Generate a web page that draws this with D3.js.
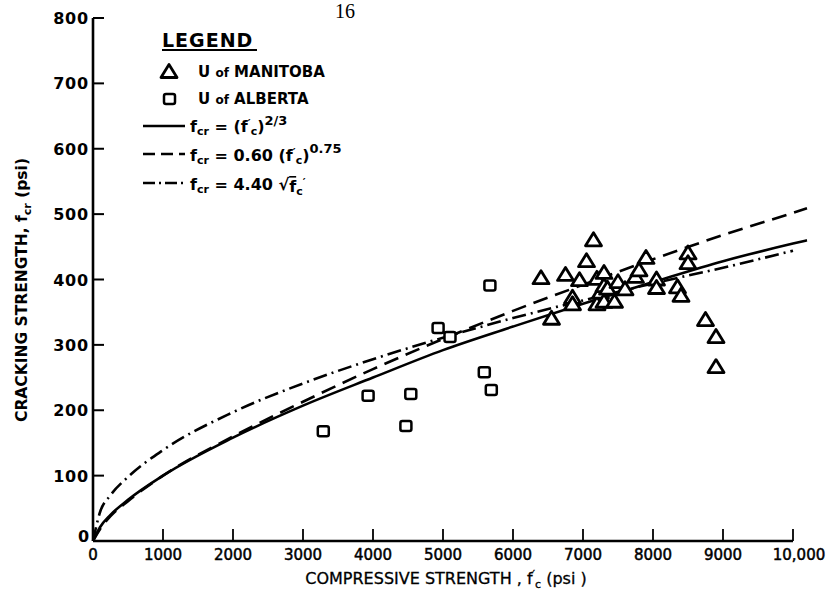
<!DOCTYPE html>
<html>
<head>
<meta charset="utf-8">
<script src="https://cdn.jsdelivr.net/npm/d3@7"></script>
<style>
  body { margin: 0; background: #fff; }
  text { fill: #000; }
</style>
</head>
<body>
<div id="chart"></div>
<script>
// values
const xTicks = [0, 1000, 2000, 3000, 4000, 5000, 6000, 7000, 8000, 9000, 10000];
const xTickLabels = ['0', '1000', '2000', '3000', '4000', '5000', '6000', '7000', '8000', '9000', '10,000'];
const yTicks = [0, 100, 200, 300, 400, 500, 600, 700, 800];

// U of Manitoba (triangles)
const manitobaFc  = [6400, 6550, 6750, 6850, 6850, 6950, 7050, 7150, 7200, 7200, 7250, 7300, 7300, 7300, 7350, 7450, 7500, 7600, 7750, 7800, 7900, 8050, 8050, 8350, 8400, 8500, 8500, 8750, 8900, 8900];
const manitobaFcr = [402, 340, 407, 372, 362, 399, 428, 460, 401, 362, 380, 410, 390, 366, 386, 366, 396, 385, 404, 414, 433, 400, 387, 388, 375, 440, 425, 338, 312, 266];

// U of Alberta (squares)
const albertaFc  = [3290, 3930, 4540, 4470, 4930, 5100, 5590, 5690, 5670];
const albertaFcr = [168, 222, 225, 176, 326, 312, 258, 231, 391];

// the three curves, read at these fc values
const curveFc     = [0, 100, 250, 500, 1000, 2000, 3000, 4000, 5000, 6000, 7000, 8000, 9000, 10000, 10200];
const curveSolid  = [0, 21, 40, 63, 100, 158, 207, 250, 292, 328, 363, 396, 428, 455, 460];
const curveDashed = [0, 18, 38, 61, 100, 160, 213, 263, 309, 352, 392, 431, 468, 502, 509];
const curveDashDot = [0, 44, 70, 98, 139, 197, 241, 278, 311, 341, 368, 394, 418, 444, null];

const width = 826;
const height = 603;

const xScale = d3.scaleLinear().domain([0, 10000]).range([93, 793]);
const yScale = d3.scaleLinear().domain([0, 800]).range([541, 18]);

const svg = d3.select('#chart')
  .append('svg')
  .attr('width', width)
  .attr('height', height)
  .style('background', '#fff');

// page number
svg.append('text')
  .attr('x', 345).attr('y', 18)
  .attr('text-anchor', 'middle')
  .style('font-family', 'Liberation Serif')
  .style('font-size', '20px')
  .text('16');

// axes
const axisColor = '#000';
svg.append('line')
  .attr('x1', xScale(0)).attr('x2', xScale(0))
  .attr('y1', yScale(800)).attr('y2', yScale(0))
  .attr('stroke', axisColor).attr('stroke-width', 2.6);
svg.append('line')
  .attr('x1', xScale(0)).attr('x2', xScale(10000))
  .attr('y1', yScale(0)).attr('y2', yScale(0))
  .attr('stroke', axisColor).attr('stroke-width', 2.6);

// y ticks (inside, pointing right)
const yAxisG = svg.append('g').attr('class', 'y-axis');
yAxisG.selectAll('line')
  .data(yTicks.filter((d) => d > 0))
  .join('line')
  .attr('x1', xScale(0)).attr('x2', xScale(0) + 11)
  .attr('y1', (d) => yScale(d)).attr('y2', (d) => yScale(d))
  .attr('stroke', axisColor).attr('stroke-width', 2);
yAxisG.selectAll('text')
  .data(yTicks)
  .join('text')
  .attr('x', (d) => d === 0 ? 90 : 89)
  .attr('y', (d) => yScale(d) + (d === 0 ? 1 : 6))
  .attr('text-anchor', 'end')
  .style('font-family', 'DejaVu Sans')
  .style('font-weight', 'bold')
  .style('font-size', '16px')
  .style('letter-spacing', '0.8px')
  .text((d) => d);

// x ticks (inside, pointing up)
const xAxisG = svg.append('g').attr('class', 'x-axis');
xAxisG.selectAll('line')
  .data(xTicks.filter((d) => d > 0))
  .join('line')
  .attr('x1', (d) => xScale(d)).attr('x2', (d) => xScale(d))
  .attr('y1', yScale(0)).attr('y2', yScale(0) - 12)
  .attr('stroke', axisColor).attr('stroke-width', 1.8);
xAxisG.selectAll('text')
  .data(xTicks)
  .join('text')
  .attr('x', (d) => xScale(d) + (d === 10000 ? 6 : 0))
  .attr('y', yScale(0) + 19)
  .attr('text-anchor', 'middle')
  .style('font-family', 'DejaVu Sans')
  .style('font-size', '15px')
  .style('stroke', '#000')
  .style('stroke-width', '0.5px')
  .text((d, i) => xTickLabels[i]);

// axis titles
const xTitle = svg.append('text')
  .attr('x', 446).attr('y', 584)
  .attr('text-anchor', 'middle')
  .style('font-family', 'DejaVu Sans')
  .style('font-size', '16px')
  .style('stroke', '#000')
  .style('stroke-width', '0.3px');
xTitle.append('tspan').text('COMPRESSIVE STRENGTH , f');
xTitle.append('tspan').attr('dy', -6).style('font-size', '11px').text('′');
xTitle.append('tspan').attr('dy', 10).style('font-size', '11px').text('c');
xTitle.append('tspan').attr('dy', -4).text('  (psi )');

const yTitle = svg.append('text')
  .attr('transform', 'translate(27, 290) rotate(-90)')
  .attr('text-anchor', 'middle')
  .style('font-family', 'DejaVu Sans')
  .style('font-weight', 'bold')
  .style('font-size', '15.5px');
yTitle.append('tspan').text('CRACKING STRENGTH, f');
yTitle.append('tspan').attr('dy', 4).style('font-size', '11px').text('cr');
yTitle.append('tspan').attr('dy', -4).text(' (psi)');

// curves
const line = (ys) => d3.line()
  .defined((d, i) => ys[i] !== null)
  .x((d) => xScale(d))
  .y((d, i) => yScale(ys[i]))
  .curve(d3.curveMonotoneX)(curveFc);

const curves = svg.append('g').attr('class', 'curves').attr('fill', 'none').attr('stroke', '#000');
curves.append('path').attr('d', line(curveSolid)).attr('stroke-width', 2.6);
curves.append('path').attr('d', line(curveDashed)).attr('stroke-width', 2.6)
  .attr('stroke-dasharray', '15 8');
curves.append('path').attr('d', line(curveDashDot)).attr('stroke-width', 2.6)
  .attr('stroke-dasharray', '14 5 2 5');

// markers
const triPath = 'M0,-7.5 L8,5.5 L-8,5.5 Z';
svg.append('g').attr('class', 'manitoba')
  .selectAll('path')
  .data(manitobaFc)
  .join('path')
  .attr('transform', (d, i) => `translate(${xScale(d)},${yScale(manitobaFcr[i])})`)
  .attr('d', triPath)
  .attr('fill', '#fff')
  .attr('stroke', '#000')
  .attr('stroke-width', 2.8)
  .attr('stroke-linejoin', 'round');

svg.append('g').attr('class', 'alberta')
  .selectAll('rect')
  .data(albertaFc)
  .join('rect')
  .attr('x', (d) => xScale(d) - 5.5)
  .attr('y', (d, i) => yScale(albertaFcr[i]) - 5)
  .attr('width', 11).attr('height', 10)
  .attr('rx', 2)
  .attr('fill', '#fff')
  .attr('stroke', '#000')
  .attr('stroke-width', 2.5);

// legend
const legend = svg.append('g').attr('class', 'legend')
  .style('font-family', 'DejaVu Sans')
  .style('font-weight', 'bold');

legend.append('text')
  .attr('x', 162).attr('y', 47)
  .style('font-size', '19px')
  .style('letter-spacing', '1px')
  .text('LEGEND');
legend.append('line')
  .attr('x1', 162).attr('x2', 257).attr('y1', 50).attr('y2', 50)
  .attr('stroke', '#000').attr('stroke-width', 2);

legend.append('path')
  .attr('transform', 'translate(169,72)')
  .attr('d', triPath)
  .attr('fill', '#fff').attr('stroke', '#000').attr('stroke-width', 2.8)
  .attr('stroke-linejoin', 'round');
const t1 = legend.append('text').attr('x', 198).attr('y', 77).style('font-size', '15px');
t1.append('tspan').text('U ');
t1.append('tspan').style('font-size', '12px').text('of');
t1.append('tspan').text(' MANITOBA');

legend.append('rect')
  .attr('x', 164).attr('y', 94).attr('width', 11).attr('height', 10).attr('rx', 2)
  .attr('fill', '#fff').attr('stroke', '#000').attr('stroke-width', 2.5);
const t2 = legend.append('text').attr('x', 198).attr('y', 104).style('font-size', '15px');
t2.append('tspan').text('U ');
t2.append('tspan').style('font-size', '12px').text('of');
t2.append('tspan').text(' ALBERTA');

const legendLines = [
  { y: 126, dash: null },
  { y: 154, dash: '12 6' },
  { y: 183, dash: '12 4 2 4' },
];
legend.selectAll('line.sample')
  .data(legendLines)
  .join('line')
  .attr('class', 'sample')
  .attr('x1', 143).attr('x2', 185)
  .attr('y1', (d) => d.y).attr('y2', (d) => d.y)
  .attr('stroke', '#000').attr('stroke-width', 2.4)
  .attr('stroke-dasharray', (d) => d.dash);

function fcr(g, x, y) {
  const t = g.append('text').attr('x', x).attr('y', y).style('font-size', '16px');
  t.append('tspan').text('f');
  t.append('tspan').attr('dy', 3).style('font-size', '11px').text('cr');
  t.append('tspan').attr('dy', -3).text(' = ');
  return t;
}

const f1 = fcr(legend, 190, 132);
f1.append('tspan').text('(f');
f1.append('tspan').attr('dy', -5).style('font-size', '11px').text('′');
f1.append('tspan').attr('dy', 8).style('font-size', '11px').text('c');
f1.append('tspan').attr('dy', -3).text(')');
f1.append('tspan').attr('dy', -7).style('font-size', '13px').text('2/3');

const f2 = fcr(legend, 190, 161);
f2.append('tspan').text('0.60 (f');
f2.append('tspan').attr('dy', -5).style('font-size', '11px').text('′');
f2.append('tspan').attr('dy', 8).style('font-size', '11px').text('c');
f2.append('tspan').attr('dy', -3).text(')');
f2.append('tspan').attr('dy', -8).style('font-size', '13px').text('0.75');

const f3 = fcr(legend, 190, 190);
f3.append('tspan').text('4.40 √');
f3.append('tspan').attr('dy', 2).style('text-decoration', 'overline').text('f');
f3.append('tspan').attr('dy', 3).style('font-size', '11px').text('c');
f3.append('tspan').attr('dy', -9).style('font-size', '11px').text('′');
</script>
</body>
</html>
